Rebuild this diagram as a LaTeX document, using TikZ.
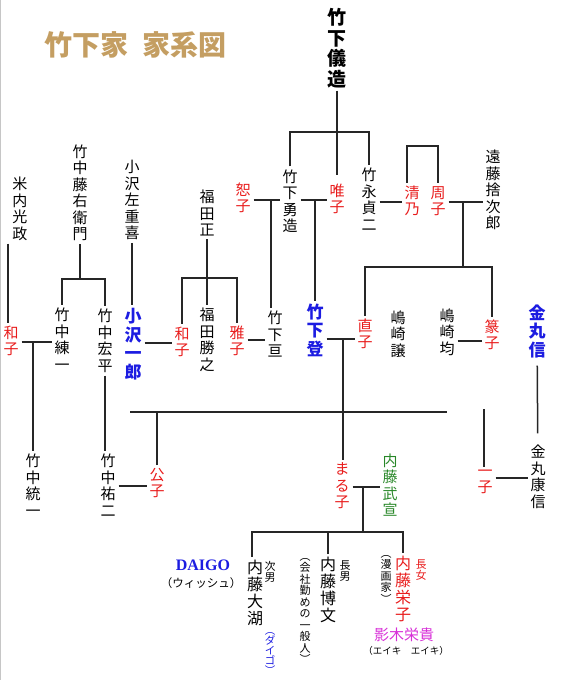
\documentclass[tikz,border=0pt]{standalone}
\usepackage{fontspec}
\usepackage{tikz}
\usetikzlibrary{positioning}
\newfontfamily\jp{Noto Sans CJK JP}
\newfontfamily\romanbf{Liberation Serif}
\definecolor{kinari}{RGB}{196,158,98}
\definecolor{akai}{RGB}{232,28,28}
\definecolor{aoi}{RGB}{28,28,225}
\definecolor{midori}{RGB}{40,135,40}
\definecolor{murasaki}{RGB}{215,45,215}

\begin{document}
\begin{tikzpicture}[x=1pt, y=-1pt,
    person/.style={font=\jp\fontsize{15}{16.5}\selectfont, align=center, inner sep=0pt, outer sep=3pt},
    woman/.style={person, text=akai},
    child/.style={font=\jp\fontsize{16}{17}\selectfont, align=center, inner sep=0pt, outer sep=3pt},
    boldblue/.style={font=\jp\bfseries\fontsize{17}{18.5}\selectfont, text=aoi, align=center, inner sep=0pt, outer sep=3pt},
    note/.style={font=\jp\fontsize{11}{11.5}\selectfont, align=center, inner sep=0pt},
    famline/.style={line width=1.5pt, black!85}
]
\useasboundingbox (0,0) rectangle (561,680);
\draw[gray!45, line width=1pt] (0.5,0) -- (0.5,680);

% 題
\node[font=\jp\bfseries\fontsize{28}{28}\selectfont, text=kinari] (title) at (135,45) {竹下家\hspace{0.5em}家系図};

% 上の世代
\node[font=\jp\bfseries\fontsize{19}{20.5}\selectfont, align=center, inner sep=0pt, outer sep=3pt] (gizo) at (337,48) {竹\\下\\儀\\造};
\node[person] (yuzo) at (290,201) {竹\\下\\勇\\造};
\node[woman] (yuiko) at (337,199) {唯\\子};
\node[person] (sadaji) at (369,199) {竹\\永\\貞\\二};
\node[woman] (kiyono) at (412,201) {清\\乃};
\node[woman] (shuko) at (438,201) {周\\子};
\node[person] (endo) at (493,190) {遠\\藤\\捨\\次\\郎};
\node[woman] (joko) at (243,198) {恕\\子};
\node[person] (yonai) at (20,209) {米\\内\\光\\政};
\node[person] (fujiemon) at (80,193) {竹\\中\\藤\\右\\衛\\門};
\node[person] (sajuki) at (132,200) {小\\沢\\左\\重\\喜};
\node[person] (tadashi) at (207,213) {福\\田\\正};

% 中の世代
\node[woman] (kazukoL) at (11,341) {和\\子};
\node[person] (renichi) at (62,339) {竹\\中\\練\\一};
\node[person] (kohei) at (105,341) {竹\\中\\宏\\平};
\node[boldblue] (ichiro) at (133,344) {小\\沢\\一\\郎};
\node[woman] (kazukoM) at (182,342) {和\\子};
\node[person] (katsuyuki) at (207,340) {福\\田\\勝\\之};
\node[woman] (masako) at (237,341) {雅\\子};
\node[person] (wataru) at (275,334) {竹\\下\\亘};
\node[boldblue] (noboru) at (315,330) {竹\\下\\登};
\node[woman] (naoko) at (365,334) {直\\子};
\node[person] (yuzuru) at (398,334) {嶋\\崎\\譲};
\node[person] (hitoshi) at (447,332) {嶋\\崎\\均};
\node[woman] (tenko) at (492,335) {篆\\子};
\node[boldblue] (shin) at (537,331) {金\\丸\\信};

% 下の世代
\node[person] (toichi) at (33,485) {竹\\中\\統\\一};
\node[person] (yuji) at (108,485) {竹\\中\\祐\\二};
\node[woman] (kimiko) at (157,483) {公\\子};
\node[woman] (maruko) at (342,486) {ま\\る\\子};
\node[person, text=midori] (takenobu) at (390,485) {内\\藤\\武\\宣};
\node[woman] (ichiko) at (485,482) {一\\子};
\node[person] (yasunobu) at (538,477) {金\\丸\\康\\信};

% 内藤家の子
\node[child] (daiko) at (255,593) {内\\藤\\大\\湖};
\node[note] (jinan) at (270,572) {次\\男};
\node[note, font=\jp\fontsize{10.5}{10}\selectfont, text=aoi] (daigokana) at (270,654) {︵\\ダ\\イ\\ゴ\\︶};
\node[font=\romanbf\bfseries\fontsize{16}{16}\selectfont, text=aoi, inner sep=0pt] (daigo) at (203,565) {DAIGO};
\node[font=\jp\fontsize{11.5}{12}\selectfont, inner sep=0pt] (wish) at (201,583) {（ウィッシュ）};
\node[child] (hirofumi) at (328,590) {内\\藤\\博\\文};
\node[note] (chonan) at (345,571) {長\\男};
\node[note] (kaisha) at (305,611) {︵\\会\\社\\勤\\め\\の\\一\\般\\人\\︶};
\node[child, text=akai] (eiko) at (403,589) {内\\藤\\栄\\子};
\node[note, text=akai] (chojo) at (421,570) {長\\女};
\node[note] (manga) at (386,579) {︵\\漫\\画\\家\\︶};
\node[font=\jp\fontsize{15}{15}\selectfont, text=murasaki, inner sep=0pt] (eiki) at (404,635) {影木栄貴};
\node[font=\jp\fontsize{9.5}{10}\selectfont, inner sep=0pt] (eikikana) at (406,651) {（エイキ　エイキ）};

% 竹下儀造から
\draw[famline, shorten >=6pt] (gizo) -- (yuiko);
\coordinate (g1) at (337,132);
\draw[famline] (yuzo.north) |- (g1) -| (sadaji.north);

% 恕子と勇造
\coordinate (j1) at (271,200);
\draw[famline] (joko.east |- j1) -- (yuzo.west |- j1);
\draw[famline] (j1) -- (j1 |- wataru.north);

% 勇造と唯子
\coordinate (j2) at (315,200);
\draw[famline] (yuzo.east |- j2) -- (yuiko.west |- j2);
\draw[famline] (j2) -- (j2 |- noboru.north);

% 貞二と清乃
\coordinate (j3) at (392,202);
\draw[famline] (sadaji.east |- j3) -- (kiyono.west |- j3);
\coordinate (b1) at (422,146);
\draw[famline] ([xshift=-5pt]kiyono.north) |- (b1) -| (shuko.north);

% 周子と遠藤捨次郎
\coordinate (j4) at (463,202);
\draw[famline] (shuko.east |- j4) -- (endo.west |- j4);
\coordinate (c4) at (463,267);
\draw[famline] (j4) -- (c4);
\draw[famline] (naoko.north) |- (c4) -| (tenko.north);

% 嶋崎均と篆子
\coordinate (j5) at (472,341);
\draw[famline] (hitoshi.east |- j5) -- (tenko.west |- j5);

% 金丸家
\draw[famline, shorten <=5pt, shorten >=9pt] (shin) -- (yasunobu);
\coordinate (k1) at (484,409);
\draw[famline] (k1) -- (k1 |- ichiko.north);
\coordinate (j6) at (512,478);
\draw[famline] (ichiko.east |- j6) -- (yasunobu.west |- j6);

% 竹下登と直子
\coordinate (j7) at (343,339);
\draw[famline] (noboru.east |- j7) -- (naoko.west |- j7);
\draw[famline] (j7) -- (j7 |- maruko.north);
\coordinate (h1) at (130,412);
\coordinate (h2) at (447,412);
\draw[famline] (h1) -- (h2);
\draw[famline] (kimiko.north) -- (kimiko.north |- h1);

% 竹中家
\draw[famline] ([xshift=-3pt]kazukoL.north |- yonai.south) -- ([xshift=-3pt]kazukoL.north);
\coordinate (j8) at (33,342);
\draw[famline] (kazukoL.east |- j8) -- (renichi.west |- j8);
\draw[famline] (j8) -- (j8 |- toichi.north);
\coordinate (s1) at (81,279);
\draw[famline] (fujiemon) -- (fujiemon |- s1);
\draw[famline] (renichi.north) |- (s1) -| (kohei.north);
\draw[famline] (kohei.south) -- (kohei.south |- yuji.north);
\coordinate (j9) at (135,486);
\draw[famline] (yuji.east |- j9) -- (kimiko.west |- j9);

% 小沢家
\draw[famline] (sajuki.south) -- (sajuki.south |- ichiro.north);
\coordinate (j10) at (160,343);
\draw[famline] (ichiro.east |- j10) -- (kazukoM.west |- j10);

% 福田家
\coordinate (s2) at (207,278);
\draw[famline] (kazukoM.north) |- (s2) -| (masako.north);
\draw[famline] (tadashi) -- (katsuyuki);
\coordinate (j11) at (257,340);
\draw[famline] (masako.east |- j11) -- (wataru.west |- j11);

% まる子と内藤武宣
\coordinate (j12) at (363,487);
\draw[famline] (maruko.east |- j12) -- (takenobu.west |- j12);
\coordinate (c12) at (363,532);
\draw[famline] (j12) -- (c12);
\draw[famline] ([xshift=-3pt]daiko.north) |- (c12) -| (eiko.north);
\draw[famline] (hirofumi.north) -- (hirofumi.north |- c12);

\end{tikzpicture}
\end{document}
